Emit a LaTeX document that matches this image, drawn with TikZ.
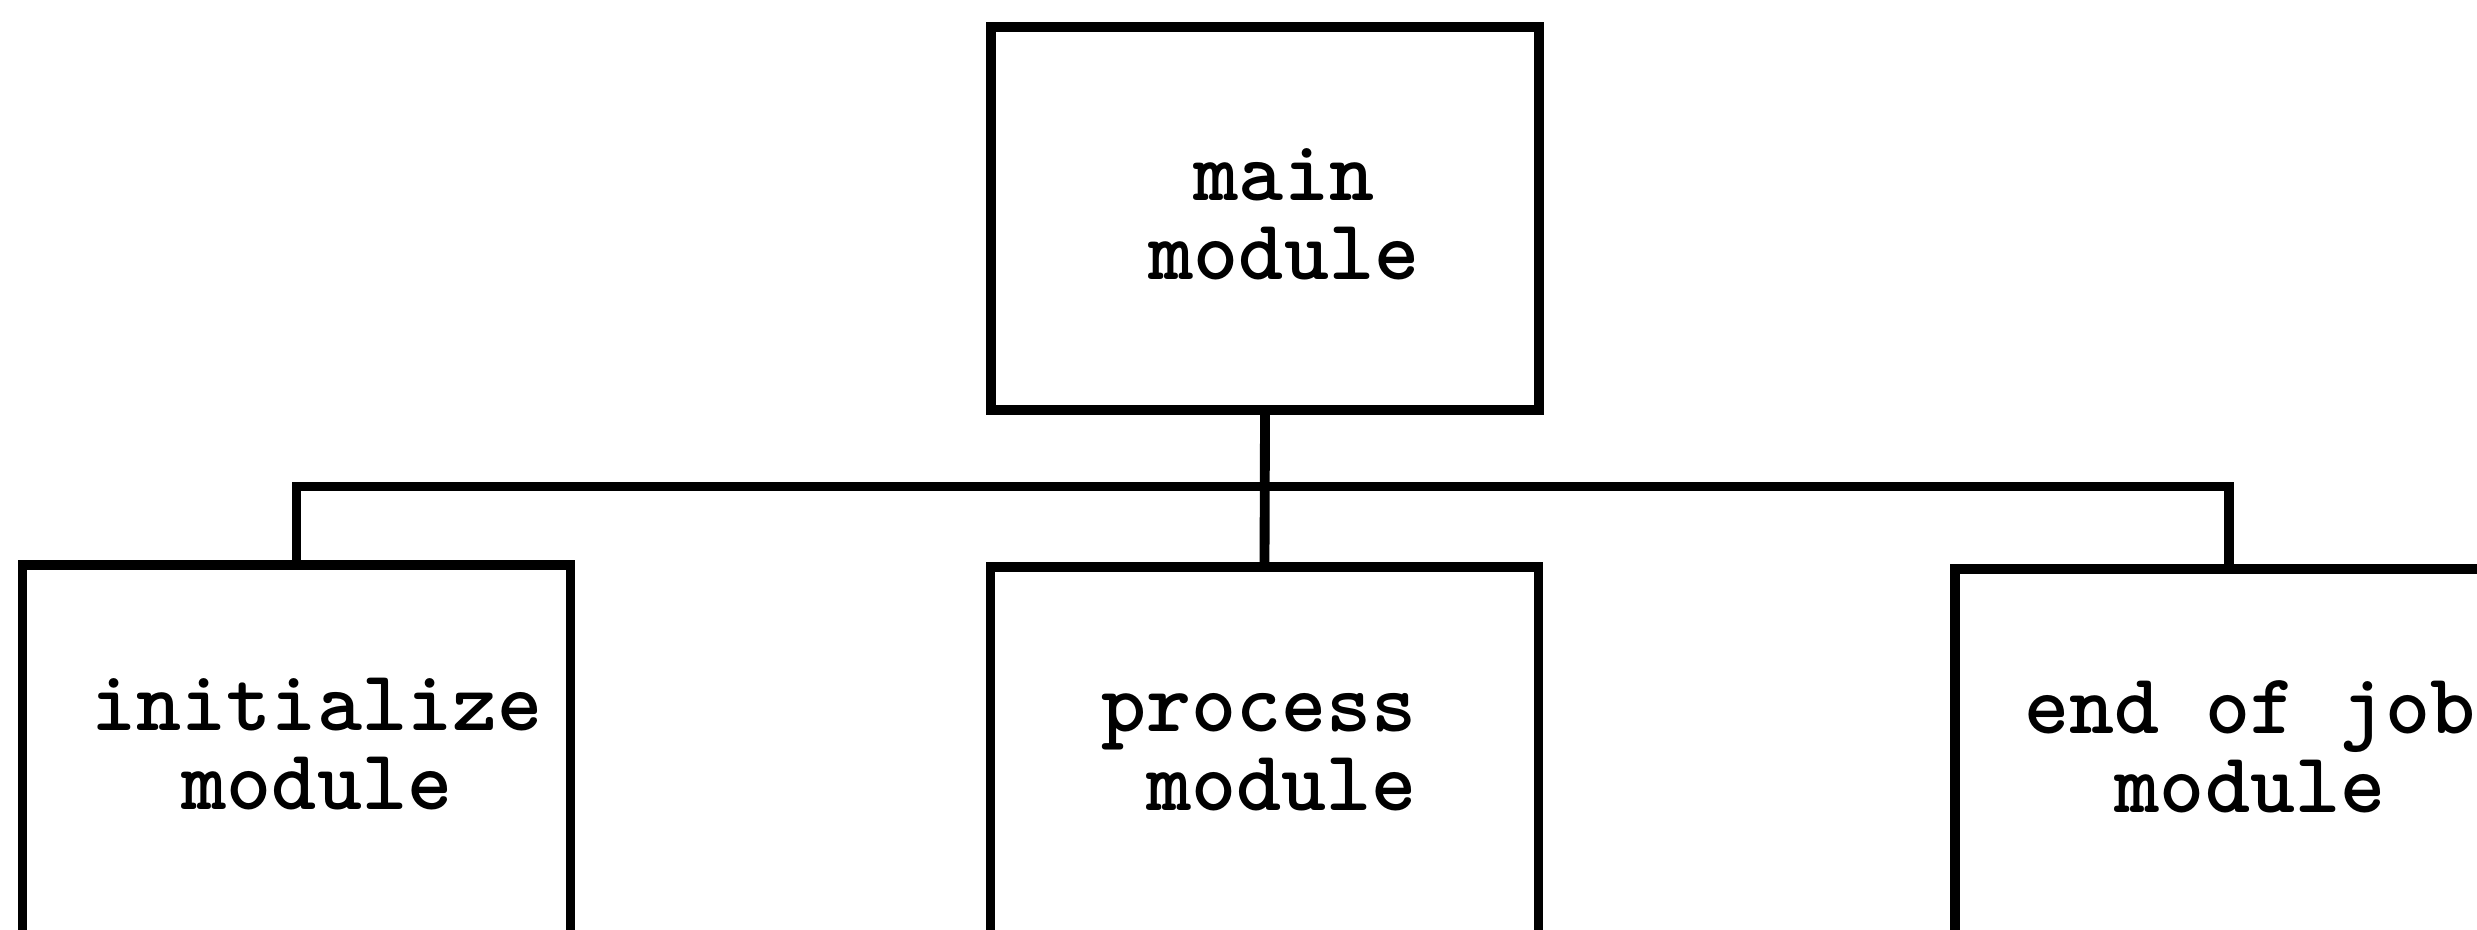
\documentclass[tikz,border=0pt]{standalone}
\usepackage{fontspec}
\usepackage{tikz}
\usetikzlibrary{positioning}

\begin{document}
\begin{tikzpicture}[
    modulo/.style = {draw, line width = 2.8pt, minimum width = 5.48cm, minimum height = 3.83cm, inner sep = 0pt},
    testo/.style = {font = \ttfamily\bfseries\fontsize{24.4}{22.5}\selectfont, align = center, inner sep = 0pt},
    filo/.style = {line width = 2.8pt}
]
    % Bordi
    \useasboundingbox (0,0) rectangle (24.77,-9.29);
    % Riquadri
    \node[modulo] (main) at (12.65,-2.185) {};
    \node[modulo, anchor = north] (init) at (2.965,-5.60) {};
    \node[modulo, anchor = north] (proc) at (12.645,-5.62) {};
    \node[modulo, anchor = north] (fine) at (22.29,-5.64) {};
    % Testi
    \node[testo] (mainT) at (12.84,-2.14) {main\\module};
    \node[testo] (initT) at (3.17,-7.44) {initialize\\module};
    \node[testo, align = right] (procT) at (12.59,-7.525) {process\\module};
    \node[testo] (fineT) at (22.50,-7.47) {end of job\\module};
    % Collegamenti
    \coordinate (bus) at (12.65,-4.865);
    \draw[filo] (main.south) -- (proc.north);
    \draw[filo] (init.north) |- (bus) -| (fine.north);
\end{tikzpicture}
\end{document}
